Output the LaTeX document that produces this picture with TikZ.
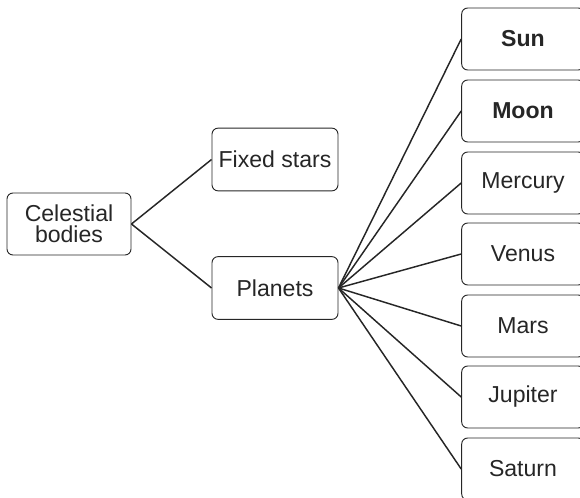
\documentclass[tikz,border=0pt]{standalone}
\usepackage{fontspec}
\setmainfont{Liberation Sans}
\begin{document}
\begin{tikzpicture}[x=0.75pt,y=-0.75pt,
  box/.style={draw=black!85, line width=0.7pt, rounded corners=4.5pt, inner sep=0pt, align=center,
    font=\fontsize{17.3}{18}\selectfont, text=black!85},
  lbox/.style={box, minimum width=93pt, minimum height=46.5pt},
  mbox/.style={box, minimum width=94.5pt, minimum height=47pt},
  rbox/.style={box, minimum width=92pt, minimum height=46.5pt},
  link/.style={draw=black!85, line width=1.1pt}]
\useasboundingbox (0,0) rectangle (580,498);
\clip (0,0) rectangle (580,498);
\node[lbox] (cb) at (69,224) {Celestial\\[-2pt]bodies};
\node[mbox] (fs) at (275,159.5) {Fixed stars};
\node[mbox] (pl) at (275,288) {Planets};
\node[rbox] (sun) at (523,39) {\bfseries Sun};
\node[rbox] (moon) at (523,111) {\bfseries Moon};
\node[rbox] (mer) at (523,183) {Mercury};
\node[rbox] (ven) at (523,254) {Venus};
\node[rbox] (mar) at (523,326) {Mars};
\node[rbox] (jup) at (523,397) {Jupiter};
\node[rbox] (sat) at (523,469) {Saturn};
\draw[link] (cb.east) -- (fs.west);
\draw[link] (cb.east) -- (pl.west);
\foreach \n in {sun,moon,mer,ven,mar,jup,sat}
  \draw[link] (pl.east) -- (\n.west);
\end{tikzpicture}
\end{document}
